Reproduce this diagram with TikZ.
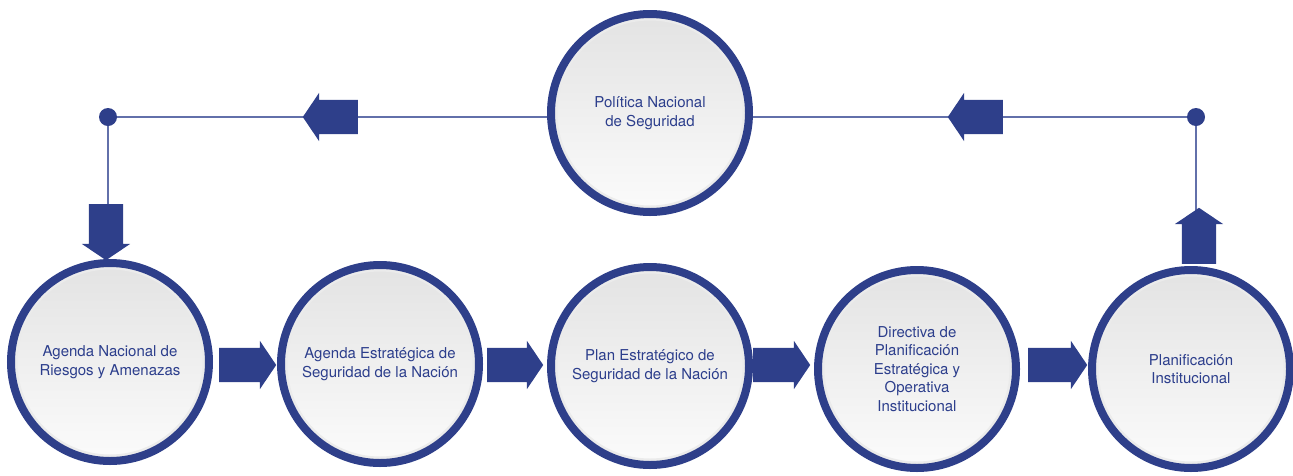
\documentclass[tikz,border=0pt]{standalone}
\usepackage{fontspec}
\setmainfont{TeX Gyre Heros}
\usetikzlibrary{shapes.arrows,shadows,backgrounds}
\definecolor{navy}{RGB}{46,63,138}
\definecolor{linec}{RGB}{98,112,170}
\definecolor{txt}{RGB}{44,62,140}
\begin{document}
\begin{tikzpicture}[x=1pt,y=-1pt,
  stage/.style={circle, draw=navy, line width=8pt, minimum size=198pt, inner sep=0pt,
    top color=black!11, bottom color=black!1.5, text=txt, align=center,
    font=\fontsize{15}{18.5}\selectfont,
    drop shadow={shadow xshift=1.5pt, shadow yshift=-2.5pt, opacity=0.22, fill=black},
    path picture={\draw[black!8, line width=3pt] (path picture bounding box.center) circle (94pt);}},
  fat/.style={single arrow, fill=navy, draw=none, inner xsep=0pt, inner ysep=17pt,
    minimum width=48pt, single arrow head extend=7pt, single arrow head indent=0pt,
    single arrow tip angle=112, anchor=tail, font={}},
  link/.style={draw=linec, line width=1.4pt},
  dot/.style={circle, fill=navy, draw=none, inner sep=0pt, minimum size=18pt}]
\useasboundingbox (0,0) rectangle (1293,475);
% circles
\node[stage] (top) at (650,113) {Política Nacional\\de Seguridad};
\node[stage] (c1) at (110,362) {Agenda Nacional de\\Riesgos y Amenazas};
\node[stage] (c2) at (380,364) {Agenda Estratégica de\\Seguridad de la Nación};
\node[stage] (c3) at (650,366) {Plan Estratégico de\\Seguridad de la Nación};
\node[stage] (c4) at (917,369) {Directiva de\\Planificación\\Estratégica y\\Operativa\\Institucional};
\node[stage] (c5) at (1191,369) {Planificación\\Institucional};
% dots
\node[dot] (dL) at (108,117) {};
\node[dot] (dR) at (1196,117) {};
% fat arrows (placed by their tails)
\node[fat, minimum height=57pt] (a1) at (219,365) {};
\node[fat, minimum height=56pt] (a2) at (487,365) {};
\node[fat, minimum height=57pt] (a3) at (753,365) {};
\node[fat, minimum height=59pt] (a4) at (1028,365) {};
\node[fat, minimum height=55pt, rotate=180] (tl) at (358,117) {};
\node[fat, minimum height=55pt, rotate=180] (tr) at (1003,117) {};
\node[fat, minimum height=56pt, rotate=-90] (down) at (106,204) {};
\node[fat, minimum height=56pt, rotate=90] (up) at (1199,264) {};
% lines
\begin{scope}[on background layer]
\draw[link] (dL.center) -- (dL.center -| top.west);
\draw[link] (dR.center -| top.east) -- (dR.center);
\draw[link] (dL.center) -- (dL.center |- down.tail);
\draw[link] (dR.center) -- (dR.center |- up.tail);
\end{scope}
\end{tikzpicture}
\end{document}
